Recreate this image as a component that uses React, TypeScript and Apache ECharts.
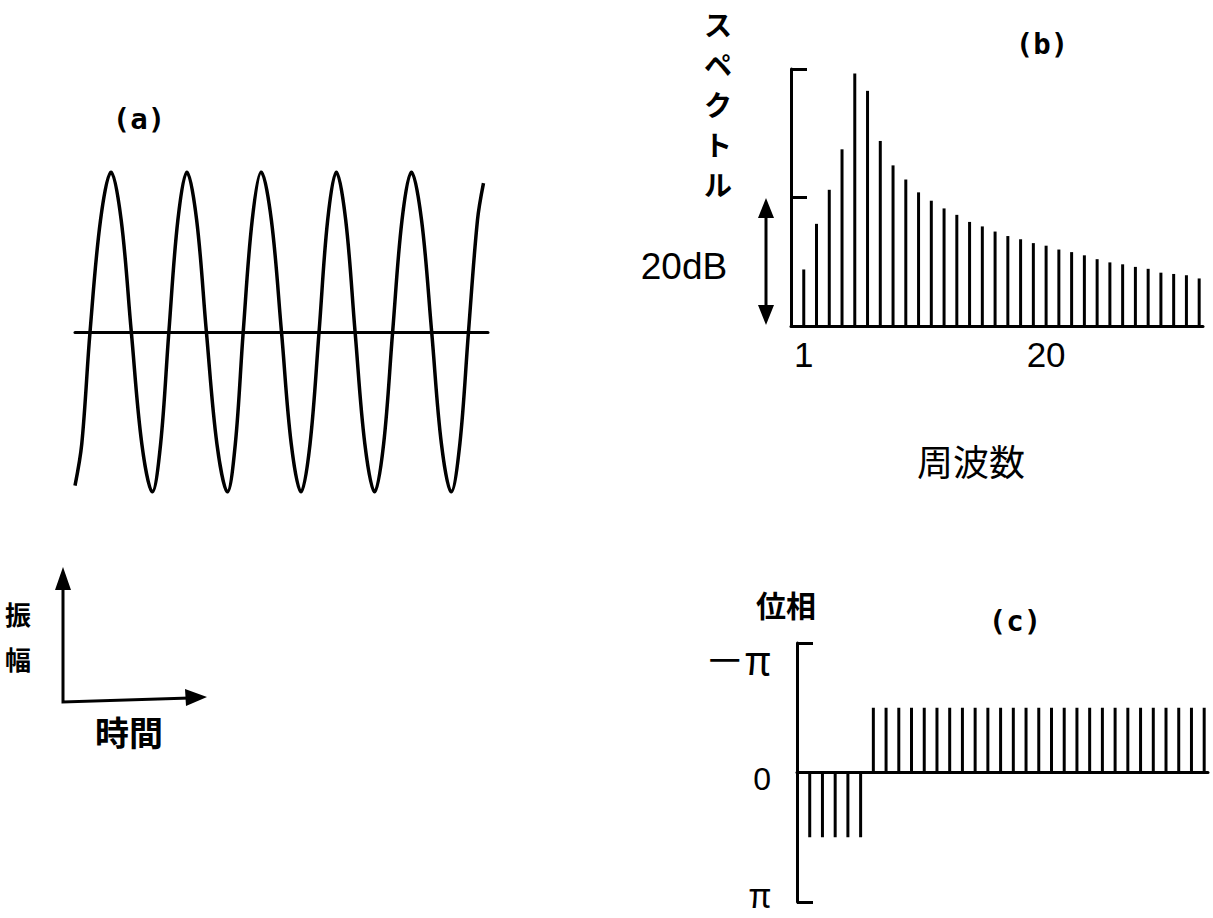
import React, { useEffect, useRef } from "react";
import * as echarts from "echarts";

// (a) waveform: points (time in periods, amplitude normalised)
const TIME = [0, 0.09, 0.2, 0.34, 0.48, 0.615, 0.75, 0.89, 1.03, 1.14, 1.25, 1.37, 1.49, 1.62, 1.75, 1.89, 2.03, 2.135, 2.24, 2.36, 2.48, 2.615, 2.75, 2.88, 3.01, 3.13, 3.25, 3.365, 3.48, 3.605, 3.73, 3.86, 3.99, 4.11, 4.23, 4.355, 4.48, 4.615, 4.75, 4.88, 5.01, 5.125, 5.24, 5.36, 5.44];
const AMPLITUDE = [-0.96, -0.7, 0, 0.7, 1, 0.7, 0, -0.7, -1, -0.7, 0, 0.7, 1, 0.7, 0, -0.7, -1, -0.7, 0, 0.7, 1, 0.7, 0, -0.7, -1, -0.7, 0, 0.7, 1, 0.7, 0, -0.7, -1, -0.7, 0, 0.7, 1, 0.7, 0, -0.7, -1, -0.7, 0, 0.7, 0.93];

// (b) spectrum, harmonic number vs level in dB
const HARMONICS = [1, 2, 3, 4, 5, 6, 7, 8, 9, 10, 11, 12, 13, 14, 15, 16, 17, 18, 19, 20, 21, 22, 23, 24, 25, 26, 27, 28, 29, 30, 31, 32];
const SPECTRUM_DB = [8.8, 15.9, 21.2, 27.5, 39.3, 36.6, 28.8, 25.0, 22.8, 20.8, 19.5, 18.3, 17.3, 16.2, 15.5, 14.7, 14.0, 13.5, 12.9, 12.5, 11.9, 11.5, 11.0, 10.4, 9.9, 9.6, 9.2, 8.9, 8.3, 8.1, 7.9, 7.4];
const FREQ_TICK_LABELS = [1, 20];

// (c) phase in units of π (axis runs from -π at top to π at bottom)
const PHASE_PI = [0.5, 0.5, 0.5, 0.5, 0.5, -0.5, -0.5, -0.5, -0.5, -0.5, -0.5, -0.5, -0.5, -0.5, -0.5, -0.5, -0.5, -0.5, -0.5, -0.5, -0.5, -0.5, -0.5, -0.5, -0.5, -0.5, -0.5, -0.5, -0.5, -0.5, -0.5, -0.5];
const PHASE_TICK_LABELS: Record<string, string> = { "-1": "－π", "0": "0", "1": "π" };

const INK = "#000";
const JP = '"Noto Sans CJK JP", sans-serif';
const SANS = '"Liberation Sans", Arial, sans-serif';
const MONO = '"DejaVu Sans Mono", monospace';

export default function App() {
  const ref = useRef<HTMLDivElement>(null);
  useEffect(() => {
    document.body.style.margin = "0";
    const chart = echarts.init(ref.current!, null, { renderer: "svg" });
    const waveData = TIME.map((t, i) => [t, AMPLITUDE[i]]);
    const specData = HARMONICS.map((h, i) => [h, SPECTRUM_DB[i]]);
    const phaseData = HARMONICS.map((h, i) => [h, PHASE_PI[i]]);

    const text = (x: number, y: number, s: string, font: string, extra: any = {}) => ({
      type: "text",
      x,
      y,
      style: { text: s, font, fill: INK, align: "center", verticalAlign: "middle", ...extra },
      silent: true,
    });

    chart.setOption({
      animation: false,
      backgroundColor: "#fff",
      grid: [
        { left: 75, top: 172, width: 413, height: 320, outerBoundsMode: "none", containLabel: false },
        { left: 791, top: 69, width: 412, height: 257, outerBoundsMode: "none", containLabel: false },
        { left: 797, top: 643, width: 411, height: 259, outerBoundsMode: "none", containLabel: false },
      ],
      xAxis: [
        {
          gridIndex: 0, type: "value", min: 0, max: 5.5,
          axisLine: { show: true, onZero: true, lineStyle: { color: INK, width: 3 } },
          axisTick: { show: false }, axisLabel: { show: false }, splitLine: { show: false },
        },
        {
          gridIndex: 1, type: "value", min: 0, max: 32.3, interval: 1,
          axisLine: { show: true, onZero: true, lineStyle: { color: INK, width: 3 } },
          axisTick: { show: false }, splitLine: { show: false },
          axisLabel: {
            show: true, margin: 11, color: INK, fontFamily: SANS, fontSize: 35,
            showMaxLabel: false,
            formatter: (v: number) => (FREQ_TICK_LABELS.includes(v) ? String(v) : ""),
          },
        },
        {
          gridIndex: 2, type: "value", min: 0, max: 32.3,
          axisLine: { show: true, onZero: true, lineStyle: { color: INK, width: 3 } },
          axisTick: { show: false }, axisLabel: { show: false }, splitLine: { show: false },
        },
      ],
      yAxis: [
        { gridIndex: 0, type: "value", min: -1, max: 1, show: false },
        {
          gridIndex: 1, type: "value", min: 0, max: 40, interval: 20,
          axisLine: { show: true, lineStyle: { color: INK, width: 3 } },
          axisTick: { show: true, inside: true, length: 16, lineStyle: { color: INK, width: 3 } },
          axisLabel: { show: false }, splitLine: { show: false },
        },
        {
          gridIndex: 2, type: "value", min: -1, max: 1, interval: 1, inverse: true,
          axisLine: { show: true, onZero: false, lineStyle: { color: INK, width: 3 } },
          axisTick: { show: true, inside: true, length: 16, lineStyle: { color: INK, width: 3 } },
          splitLine: { show: false },
          axisLabel: {
            show: true, margin: 26, color: INK,
            formatter: (v: number) => {
              const s = PHASE_TICK_LABELS[String(v)];
              if (v === -1) return "{t|" + s + "}";
              if (v === 0) return "{z|" + s + "}";
              return "{b|" + s + "}";
            },
            rich: {
              t: { fontFamily: JP, fontSize: 40, padding: [30, 0, 0, 0] },
              z: { fontFamily: SANS, fontSize: 32, padding: [12, 0, 0, 0] },
              b: { fontFamily: JP, fontSize: 34, lineHeight: 24, padding: [0, 0, 18, 0] },
            },
          },
        },
      ],
      series: [
        {
          type: "line", xAxisIndex: 0, yAxisIndex: 0, data: waveData, smooth: 0.35,
          showSymbol: false, symbol: "none",
          lineStyle: { color: INK, width: 3.5 },
        },
        {
          type: "bar", xAxisIndex: 1, yAxisIndex: 1, data: specData, barWidth: 3,
          itemStyle: { color: INK },
        },
        {
          type: "bar", xAxisIndex: 2, yAxisIndex: 2, data: phaseData, barWidth: 3,
          itemStyle: { color: INK },
        },
      ],
      graphic: [
        text(139, 119, "(a)", "bold 29px " + MONO),
        text(1042, 44, "(b)", "bold 29px " + MONO),
        text(1015, 621, "(c)", "bold 29px " + MONO),
        text(718, 4, "ス\nペ\nク\nト\nル", "bold 28px " + JP, { verticalAlign: "top", lineHeight: 40 }),
        text(684, 266, "20dB", "37px " + SANS),
        text(971, 460, "周波数", "36px " + JP),
        text(786, 604, "位相", "bold 30px " + JP),
        text(18, 636, "振\n幅", "bold 26px " + JP, { lineHeight: 45 }),
        text(129, 731, "時間", "bold 34px " + JP),
        // 20 dB double arrow
        { type: "line", shape: { x1: 766, y1: 212, x2: 766, y2: 312 }, style: { stroke: INK, lineWidth: 3 } },
        { type: "polygon", shape: { points: [[766, 198], [758, 218], [774, 218]] }, style: { fill: INK } },
        { type: "polygon", shape: { points: [[766, 325], [758, 305], [774, 305]] }, style: { fill: INK } },
        // amplitude / time key
        { type: "polyline", shape: { points: [[63, 585], [63, 702], [190, 698]] }, style: { stroke: INK, lineWidth: 3, fill: null } },
        { type: "polygon", shape: { points: [[63, 567], [55, 590], [71, 590]] }, style: { fill: INK } },
        { type: "polygon", shape: { points: [[207, 697], [185, 689], [186, 706]] }, style: { fill: INK } },
      ],
    });
    return () => chart.dispose();
  }, []);
  return <div ref={ref} style={{ width: 1213, height: 918 }} />;
}
